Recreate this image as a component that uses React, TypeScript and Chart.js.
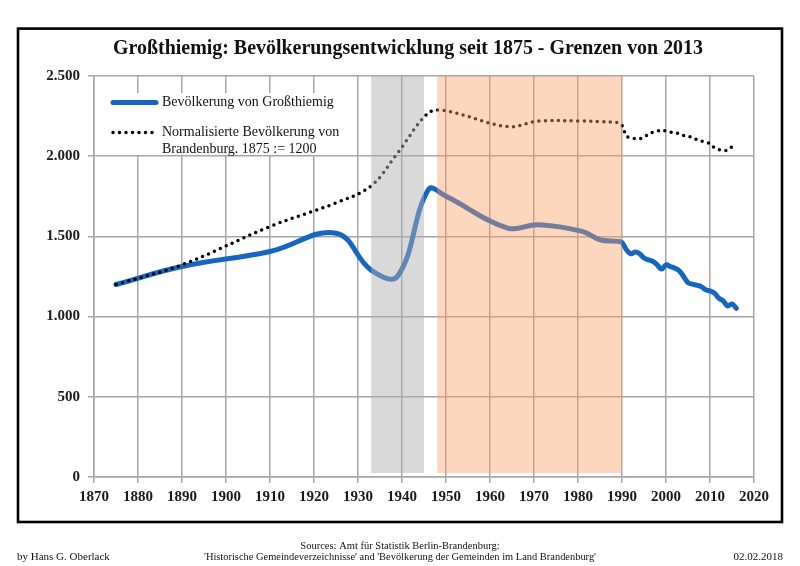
import React, { useEffect, useRef } from "react";
import { Chart, registerables } from "chart.js";

Chart.register(...registerables);

const townYears = [1875, 1890, 1910, 1925, 1933, 1939, 1946, 1950, 1964, 1971, 1981, 1985, 1989,
  1990, 1991, 1992, 1993, 1994, 1995, 1996, 1997, 1998, 1999, 2000, 2001, 2002, 2003, 2004, 2005,
  2006, 2007, 2008, 2009, 2010, 2011, 2012, 2013, 2014, 2015, 2016];
const townValues = [1200, 1312, 1406, 1520, 1290, 1252, 1792, 1750, 1552, 1573, 1531, 1479, 1469,
  1462, 1417, 1392, 1402, 1392, 1365, 1354, 1344, 1323, 1296, 1323, 1312, 1302, 1286, 1250, 1212,
  1202, 1196, 1187, 1167, 1160, 1146, 1115, 1098, 1067, 1079, 1052];

const brbYears = [1875, 1890, 1910, 1925, 1933, 1939, 1946, 1950, 1964, 1971, 1981, 1985, 1989,
  1990, 1991, 1992, 1993, 1994, 1995, 1996, 1997, 1998, 1999, 2000, 2001, 2002, 2003, 2004, 2005,
  2006, 2007, 2008, 2009, 2010, 2011, 2012, 2013, 2014, 2015];
const brbValues = [1200, 1323, 1562, 1709, 1815, 2020, 2270, 2283, 2184, 2219, 2219, 2215, 2209,
  2192, 2125, 2115, 2109, 2109, 2119, 2136, 2150, 2156, 2163, 2156, 2150, 2146, 2140, 2129, 2125,
  2115, 2104, 2094, 2088, 2078, 2053, 2042, 2036, 2038, 2059];

const xTicks = [1870, 1880, 1890, 1900, 1910, 1920, 1930, 1940, 1950, 1960, 1970, 1980, 1990, 2000, 2010, 2020];
const yTicks = [0, 500, 1000, 1500, 2000, 2500];

const grayBand = [1933, 1945];
const orangeBand = [1948, 1990];

const titleText = "Großthiemig: Bevölkerungsentwicklung seit 1875 - Grenzen von 2013";
const legendTown = "Bevölkerung von Großthiemig";
const legendBrb1 = "Normalisierte Bevölkerung von";
const legendBrb2 = "Brandenburg. 1875 := 1200";
const footerLeft = "by Hans G. Oberlack";
const footerSrc1 = "Sources: Amt für Statistik Berlin-Brandenburg:";
const footerSrc2 = "'Historische Gemeindeverzeichnisse' and 'Bevölkerung der Gemeinden im Land Brandenburg'";
const footerRight = "02.02.2018";

const BLUE = "#1665c1";
const GRID = "#a6a6a6";
const SERIF = '"Liberation Serif", "DejaVu Serif", serif';

function fmt(v: number): string {
  return String(v).replace(/\B(?=(\d{3})+(?!\d))/g, ".");
}

const decorPlugin = {
  id: "decor",
  afterDatasetsDraw(chart: any) {
    const { ctx, scales } = chart;
    const x = scales.x;
    const y = scales.y;
    ctx.save();
    const top = y.getPixelForValue(2500);
    const bot = y.getPixelForValue(25);
    ctx.fillStyle = "rgba(176,176,176,0.48)";
    const g0 = x.getPixelForValue(grayBand[0]);
    const g1 = x.getPixelForValue(grayBand[1]);
    ctx.fillRect(g0, top, g1 - g0, bot - top);
    ctx.fillStyle = "rgba(247,160,100,0.42)";
    const o0 = x.getPixelForValue(orangeBand[0]);
    const o1 = x.getPixelForValue(orangeBand[1]);
    ctx.fillRect(o0, top, o1 - o0, bot - top);
    ctx.restore();
  },
  afterDraw(chart: any) {
    const { ctx } = chart;
    ctx.save();
    // frame
    ctx.strokeStyle = "#000";
    ctx.lineWidth = 2.6;
    ctx.strokeRect(18, 28.6, 764, 493.4);
    // title
    ctx.fillStyle = "#111";
    ctx.font = "bold 21px " + SERIF;
    ctx.textAlign = "center";
    ctx.textBaseline = "middle";
    ctx.fillText(titleText, 408, 49, 590);
    // legend box
    ctx.fillStyle = "#fff";
    ctx.fillRect(96, 93, 260, 62);
    ctx.lineCap = "round";
    ctx.strokeStyle = BLUE;
    ctx.lineWidth = 5;
    ctx.beginPath();
    ctx.moveTo(113, 102.5);
    ctx.lineTo(156, 102.5);
    ctx.stroke();
    ctx.strokeStyle = "#000";
    ctx.lineWidth = 3.5;
    ctx.setLineDash([0, 6.5]);
    ctx.beginPath();
    ctx.moveTo(113, 132.5);
    ctx.lineTo(156, 132.5);
    ctx.stroke();
    ctx.setLineDash([]);
    ctx.fillStyle = "#111";
    ctx.font = "14px " + SERIF;
    ctx.textAlign = "left";
    ctx.textBaseline = "middle";
    ctx.fillText(legendTown, 162, 102.5);
    ctx.fillText(legendBrb1, 162, 132);
    ctx.fillText(legendBrb2, 162, 149);
    // footer
    ctx.font = "11px " + SERIF;
    ctx.textAlign = "left";
    ctx.fillText(footerLeft, 17, 557);
    ctx.textAlign = "right";
    ctx.fillText(footerRight, 783, 557);
    ctx.textAlign = "center";
    ctx.font = "10.5px " + SERIF;
    ctx.fillText(footerSrc1, 400, 546);
    ctx.fillText(footerSrc2, 400, 557, 392);
    ctx.restore();
  },
};

export default function App() {
  const ref = useRef<HTMLCanvasElement | null>(null);
  useEffect(() => {
    if (!ref.current) return;
    const chart = new Chart(ref.current, {
      type: "line",
      data: {
        datasets: [
          {
            label: legendBrb1 + " " + legendBrb2,
            data: brbYears.map((yr, i) => ({ x: yr, y: brbValues[i] })),
            borderColor: "#000",
            borderWidth: 3.5,
            borderDash: [0, 6.5],
            borderCapStyle: "round",
            pointRadius: 0,
            tension: 0.35,
            fill: false,
            order: 0,
          },
          {
            label: legendTown,
            data: townYears.map((yr, i) => ({ x: yr, y: townValues[i] })),
            borderColor: BLUE,
            borderWidth: 5,
            borderCapStyle: "round",
            borderJoinStyle: "round",
            pointRadius: 0,
            tension: 0.4,
            fill: false,
            order: 1,
          },
        ],
      },
      options: {
        responsive: false,
        animation: false,
        layout: { padding: { top: 76, right: 46, left: 0, bottom: 0 } },
        plugins: { legend: { display: false }, title: { display: false }, tooltip: { enabled: false } },
        scales: {
          x: {
            type: "linear",
            min: 1870,
            max: 2020,
            afterBuildTicks: (s: any) => { s.ticks = xTicks.map((v) => ({ value: v })); },
            afterFit: (s: any) => { s.height = 89; },
            grid: { color: GRID, lineWidth: 1.5, tickLength: 6, drawTicks: true },
            border: { color: GRID, width: 1.5 },
            ticks: {
              padding: 5,
              color: "#1a1a1a",
              font: { family: SERIF, size: 15, weight: "bold" },
              callback: (v: any) => String(v),
              maxRotation: 0,
            },
          },
          y: {
            type: "linear",
            min: 0,
            max: 2500,
            afterBuildTicks: (s: any) => { s.ticks = yTicks.map((v) => ({ value: v })); },
            afterFit: (s: any) => { s.width = 94; },
            grid: { color: GRID, lineWidth: 1.5, tickLength: 6, drawTicks: true },
            border: { color: GRID, width: 1.5 },
            ticks: {
              padding: 8,
              color: "#1a1a1a",
              font: { family: SERIF, size: 15, weight: "bold" },
              callback: (v: any) => fmt(Number(v)),
            },
          },
        },
      },
      plugins: [decorPlugin],
    } as any);
    return () => chart.destroy();
  }, []);
  return (
    <div style={{ position: "fixed", left: 0, top: 0, width: 800, height: 566, background: "#fff" }}>
      <canvas ref={ref} width={800} height={566} style={{ display: "block" }} />
    </div>
  );
}
